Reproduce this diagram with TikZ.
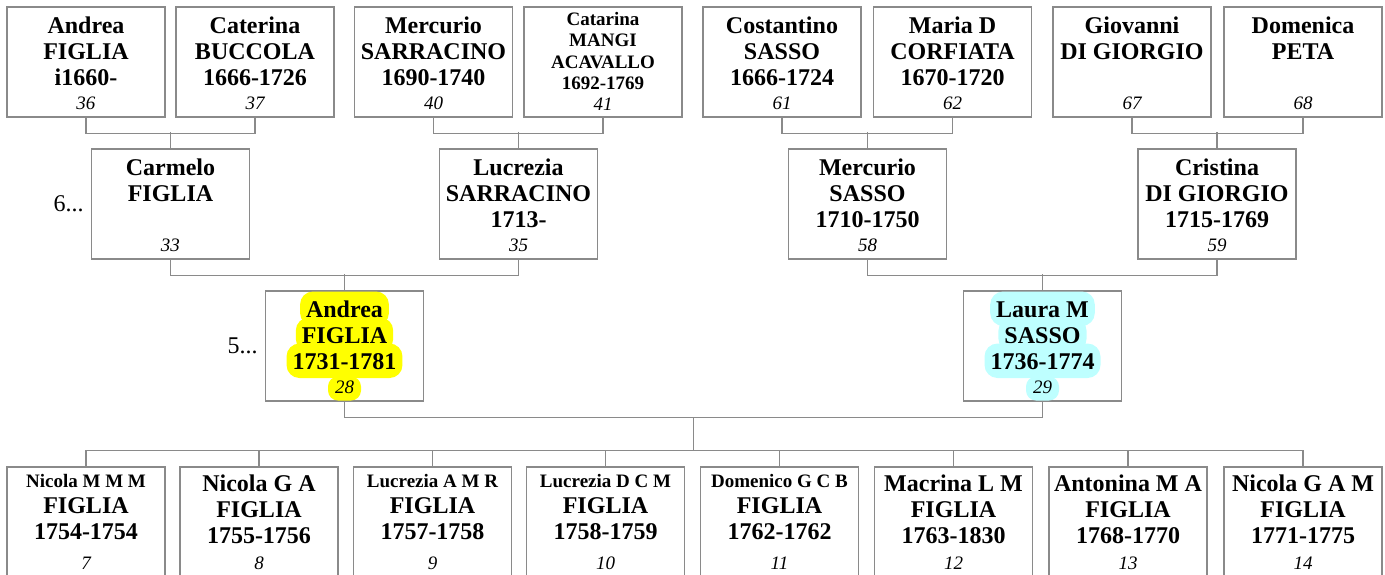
\documentclass[tikz,border=0pt]{standalone}
\usepackage{fontspec}
\setmainfont{Liberation Serif}
\usepackage{tikz}
\usetikzlibrary{positioning, calc}

\definecolor{linegray}{RGB}{138,138,138}
\definecolor{hlyellow}{RGB}{255,255,0}
\definecolor{hlcyan}{RGB}{190,255,255}

\tikzset{
    pbox/.style={rectangle, draw=linegray, line width=1.2pt, inner sep=0pt,
                 font=\fontsize{24}{26}\selectfont\bfseries},
    link/.style={draw=linegray, line width=1.2pt},
    genlab/.style={inner sep=0pt, font=\fontsize{24}{26}\selectfont},
    hlbox/.style={draw=none, inner xsep=6pt, inner ysep=0pt, minimum size=0pt,
                  text height=25.5pt, text depth=9pt, rounded corners=13pt,
                  font=\fontsize{24}{26}\selectfont\bfseries},
    hlnum/.style={hlbox, inner xsep=7pt, text height=17pt, text depth=7pt, rounded corners=10pt,
                  font=\fontsize{19}{21}\selectfont\mdseries\itshape}
}

\newcommand{\card}[3][26pt]{%
  \parbox[c][110pt][t]{158pt}{\centering\rule{0pt}{#1}#2\par\vfill
    {\fontsize{19}{21}\selectfont\mdseries\itshape #3\par}\vspace{7.5pt}}}
\newcommand{\hlname}[2]{\smash{\tikz[baseline=(hl.base)]\node[hlbox, fill=#1] (hl) {#2};}}
\newcommand{\hlnumber}[2]{\smash{\tikz[baseline=(hl.base)]\node[hlnum, fill=#1] (hl) {#2};}}

\begin{document}
\begin{tikzpicture}[x=1pt, y=-1pt]
  \path[use as bounding box] (0,0) rectangle (1385,574);
  \clip (0,0) rectangle (1385,574);

  % --- Generation 7 ---
  \node[pbox] (p36) at (86,62)     {\card{Andrea\\FIGLIA\\i1660-}{36}};
  \node[pbox] (p37) at (255,62)    {\card{Caterina\\BUCCOLA\\1666-1726}{37}};
  \node[pbox] (p40) at (433.5,62)  {\card{Mercurio\\SARRACINO\\1690-1740}{40}};
  \node[pbox] (p41) at (603,62)
        {\card[18pt]{\fontsize{19}{21.5}\selectfont Catarina\\MANGI\\ACAVALLO\\1692-1769}{41}};
  \node[pbox] (p61) at (782,62)    {\card{Costantino\\SASSO\\1666-1724}{61}};
  \node[pbox] (p62) at (952.5,62)  {\card{Maria D\\CORFIATA\\1670-1720}{62}};
  \node[pbox] (p67) at (1132,62)   {\card{Giovanni\\DI GIORGIO}{67}};
  \node[pbox] (p68) at (1303,62)   {\card{Domenica\\PETA}{68}};

  % --- Generation 6 ---
  \node[pbox] (p33) at (170.5,204) {\card{Carmelo\\FIGLIA}{33}};
  \node[pbox] (p35) at (518.5,204) {\card{Lucrezia\\SARRACINO\\1713-}{35}};
  \node[pbox] (p58) at (867.5,204) {\card{Mercurio\\SASSO\\1710-1750}{58}};
  \node[pbox] (p59) at (1217,204)  {\card{Cristina\\DI GIORGIO\\1715-1769}{59}};
  \node[genlab, left=7pt of p33] (g6) {6...};

  % --- Generation 5 ---
  \node[pbox] (p28) at (344.5,346)
        {\card{\hlname{hlyellow}{Andrea}\\\hlname{hlyellow}{FIGLIA}\\\hlname{hlyellow}{1731-1781}}{\hlnumber{hlyellow}{28}}};
  \node[pbox] (p29) at (1042.5,346)
        {\card{\hlname{hlcyan}{Laura M}\\\hlname{hlcyan}{SASSO}\\\hlname{hlcyan}{1736-1774}}{\hlnumber{hlcyan}{29}}};
  \node[genlab, left=7pt of p28] (g5) {5...};

  % --- Children ---
  \node[pbox] (c7)  at (86,522)
        {\card[20pt]{{\fontsize{19}{21}\selectfont Nicola M M M}\\FIGLIA\\1754-1754}{7}};
  \node[pbox] (c8)  at (259,522)    {\card[24pt]{Nicola G A\\FIGLIA\\1755-1756}{8}};
  \node[pbox] (c9)  at (432.5,522)
        {\card[20pt]{{\fontsize{19}{21}\selectfont Lucrezia A M R}\\FIGLIA\\1757-1758}{9}};
  \node[pbox] (c10) at (605.5,522)
        {\card[20pt]{{\fontsize{19}{21}\selectfont Lucrezia D C M}\\FIGLIA\\1758-1759}{10}};
  \node[pbox] (c11) at (779.5,522)
        {\card[20pt]{{\fontsize{19}{21}\selectfont Domenico G C B}\\FIGLIA\\1762-1762}{11}};
  \node[pbox] (c12) at (953.5,522)  {\card[24pt]{Macrina L M\\FIGLIA\\1763-1830}{12}};
  \node[pbox] (c13) at (1128,522)   {\card[24pt]{Antonina M A\\FIGLIA\\1768-1770}{13}};
  \node[pbox] (c14) at (1303,522)   {\card[24pt]{Nicola G A M\\FIGLIA\\1771-1775}{14}};

  % --- Connectors ---
  \draw[link] (p36.south) -- ++(0,16) -| (p37.south);
  \draw[link] (p40.south) -- ++(0,16) -| (p41.south);
  \draw[link] (p61.south) -- ++(0,16) -| (p62.south);
  \draw[link] (p67.south) -- ++(0,16) -| (p68.south);
  \draw[link] (p33.north) -- ++(0,-16);
  \draw[link] (p35.north) -- ++(0,-16);
  \draw[link] (p58.north) -- ++(0,-16);
  \draw[link] (p59.north) -- ++(0,-16);

  \draw[link] (p33.south) -- ++(0,16) -| (p35.south);
  \draw[link] (p58.south) -- ++(0,16) -| (p59.south);
  \draw[link] (p28.north) -- ++(0,-16);
  \draw[link] (p29.north) -- ++(0,-16);

  \draw[link] (p28.south) -- ++(0,16) -| (p29.south);
  \coordinate (fam) at ($(p28.south)!0.5!(p29.south)+(0,16)$);
  \coordinate (sib) at ($(c7.north)+(0,-16)$);
  \draw[link] (fam) -- (fam |- sib);
  \draw[link] (c7.north) -- (sib) -| (c14.north);
  \draw[link] (c8.north) -- ++(0,-16);
  \draw[link] (c9.north) -- ++(0,-16);
  \draw[link] (c10.north) -- ++(0,-16);
  \draw[link] (c11.north) -- ++(0,-16);
  \draw[link] (c12.north) -- ++(0,-16);
  \draw[link] (c13.north) -- ++(0,-16);

\end{tikzpicture}
\end{document}
